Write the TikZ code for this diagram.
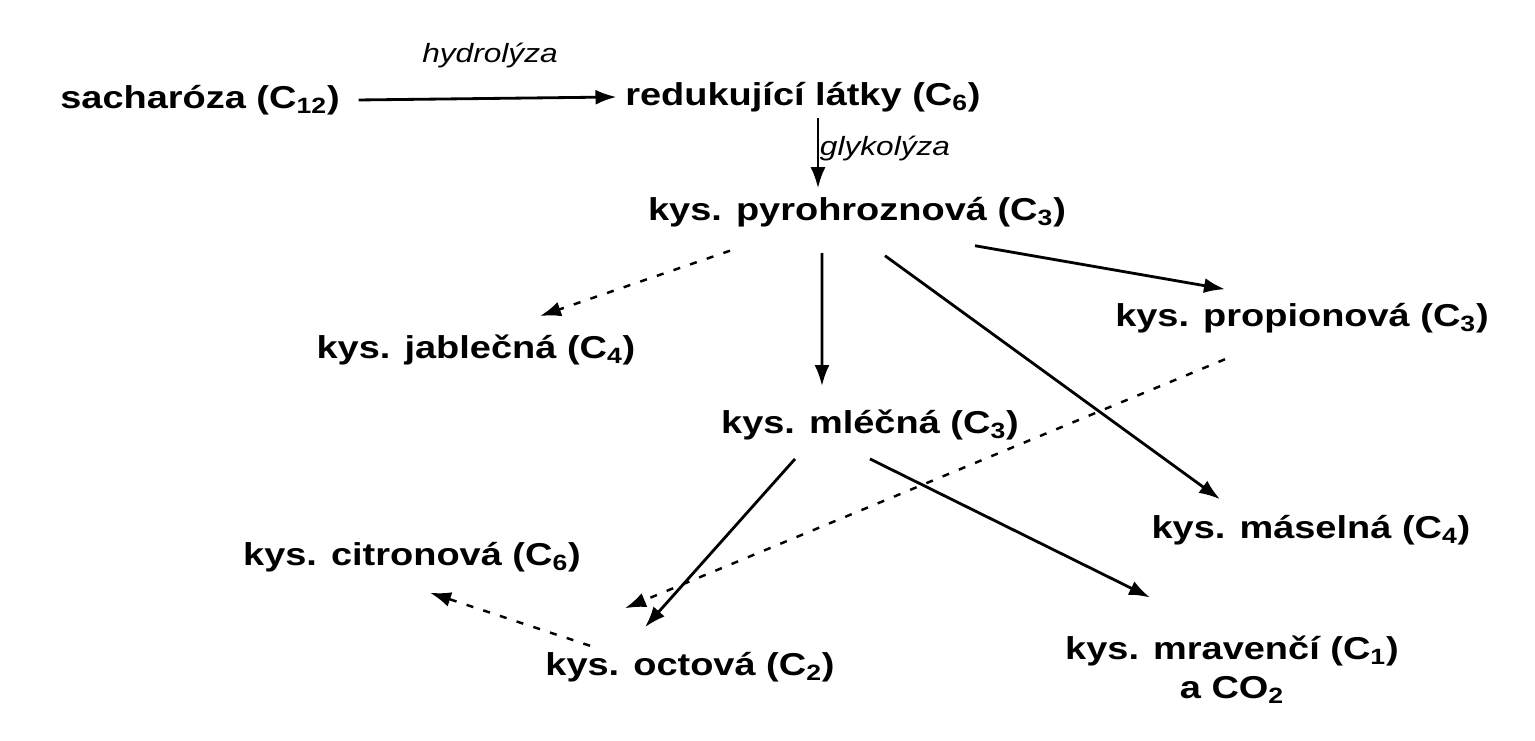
\documentclass[tikz,border=0pt]{standalone}
\usepackage{fontspec}
\setmainfont[FakeStretch=1.2]{Liberation Sans}
\usetikzlibrary{arrows.meta, positioning}

\begin{document}
\begin{tikzpicture}[
        acid/.style = {font=\bfseries\fontsize{18}{22}\selectfont, inner sep=2pt},
        proc/.style = {font=\itshape\fontsize{15}{18}\selectfont, inner sep=1pt},
        ar/.style   = {-{Latex[length=4.2mm, width=3mm]}, line width=1.6pt},
        dar/.style  = {ar, line width=1.4pt, dash pattern=on 4pt off 6pt}
    ]
        \useasboundingbox (0,0) rectangle (30.7,14.82);

        \node[acid] (sach) at (4.0,12.82)   {sacharóza (C\textsubscript{12})};
        \node[acid] (red)  at (16.06,12.88) {redukující látky (C\textsubscript{6})};
        \node[acid] (pyr)  at (17.14,10.58) {kys. pyrohroznová (C\textsubscript{3})};
        \node[acid] (jab)  at (9.52,7.82)   {kys. jablečná (C\textsubscript{4})};
        \node[acid] (prop) at (26.04,8.46)  {kys. propionová (C\textsubscript{3})};
        \node[acid] (mlec) at (17.4,6.32)   {kys. mléčná (C\textsubscript{3})};
        \node[acid] (mas)  at (26.22,4.22)  {kys. máselná (C\textsubscript{4})};
        \node[acid] (cit)  at (8.24,3.68)   {kys. citronová (C\textsubscript{6})};
        \node[acid] (oct)  at (13.8,1.48)   {kys. octová (C\textsubscript{2})};
        \node[acid, align=center] (mrav) at (24.64,1.42)
            {kys. mravenčí (C\textsubscript{1})\\a CO\textsubscript{2}};

        \node[proc] (hydro) at (9.8,13.7)   {hydrolýza};
        \node[proc] (glyko) at (17.7,11.84) {glykolýza};

        \draw[ar]  ([xshift=0.3cm]sach.east) -- ([xshift=-0.1cm]red.west);
        \draw[ar]  ([xshift=0.3cm, yshift=-0.05cm]red.south) -- ([xshift=-0.78cm, yshift=0.1cm]pyr.north);
        \draw[dar] ([xshift=-2.54cm, yshift=-0.4cm]pyr.south) -- ([xshift=1.28cm, yshift=0.3cm]jab.north);
        \draw[ar]  ([xshift=-0.7cm, yshift=-0.45cm]pyr.south) -- ([xshift=-0.96cm, yshift=0.4cm]mlec.north);
        \draw[ar]  ([xshift=2.36cm, yshift=-0.3cm]pyr.south) -- ([xshift=-1.54cm, yshift=0.2cm]prop.north);
        \draw[ar]  ([xshift=0.56cm, yshift=-0.5cm]pyr.south) -- ([xshift=-1.82cm, yshift=0.24cm]mas.north);
        \draw[dar] ([xshift=-1.54cm, yshift=-0.45cm]prop.south) -- ([xshift=-1.3cm, yshift=0.8cm]oct.north);
        \draw[ar]  ([xshift=-1.5cm, yshift=-0.3cm]mlec.south) -- ([xshift=-0.9cm, yshift=0.42cm]oct.north);
        \draw[ar]  ([yshift=-0.3cm]mlec.south) -- ([xshift=-1.64cm, yshift=0.7cm]mrav.north);
        \draw[dar] ([xshift=-2.0cm, yshift=0.05cm]oct.north) -- ([xshift=0.36cm, yshift=-0.34cm]cit.south);
    \end{tikzpicture}
\end{document}
